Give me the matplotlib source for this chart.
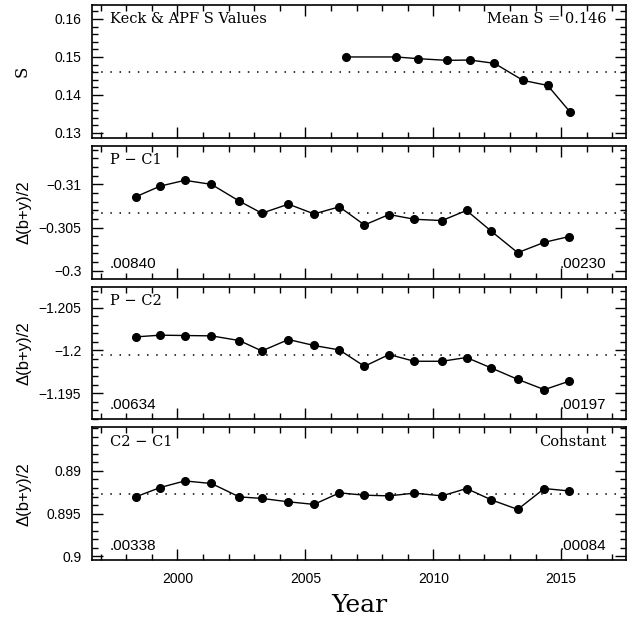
import matplotlib
matplotlib.use('Agg')
import matplotlib.pyplot as plt
from matplotlib.ticker import MultipleLocator, FixedLocator, FuncFormatter

# Keck & APF S values
s_years = [2006.59, 2008.54, 2009.42, 2010.54, 2011.43, 2012.39, 2013.51, 2014.47, 2015.35]
s_vals = [0.1500, 0.1500, 0.14955, 0.14910, 0.14920, 0.14832, 0.14383, 0.14251, 0.13549]
s_err = [0.0002, 0.0002, 0.0002, 0.0002, 0.0002, 0.0002, 0.0006, 0.0010, 0.0003]
s_mean = 0.146

# seasonal photometry
years = [1998.37, 1999.33, 2000.29, 2001.33, 2002.42, 2003.30, 2004.34, 2005.34, 2006.33,
         2007.31, 2008.27, 2009.26, 2010.34, 2011.30, 2012.27, 2013.30, 2014.34, 2015.30]
p_c1 = [-0.30856, -0.30980, -0.31047, -0.31000, -0.30806, -0.30666, -0.30771, -0.30658, -0.30740,
        -0.30530, -0.30651, -0.30596, -0.30581, -0.30698, -0.30457, -0.30209, -0.30329, -0.30395]
p_c2 = [-1.20159, -1.20179, -1.20175, -1.20171, -1.20116, -1.19994, -1.20128, -1.20058, -1.20006,
        -1.19814, -1.19952, -1.19873, -1.19873, -1.19917, -1.19794, -1.19661, -1.19540, -1.19638]
c2_c1 = [0.89304, 0.89194, 0.89117, 0.89147, 0.89304, 0.89322, 0.89362, 0.89392, 0.89257,
         0.89284, 0.89292, 0.89260, 0.89292, 0.89206, 0.89339, 0.89451, 0.89206, 0.89234]
p_c1_err = [0.0001] * 17 + [0.00022]
p_c2_err = [0.0001] * 17 + [0.00017]
c2_c1_err = [0.0001] * 18
means = [-0.30663, -1.19947, 0.89276]

panel_labels = ['P \u2212 C1', 'P \u2212 C2', 'C2 \u2212 C1']
sigma_left = ['.00840', '.00634', '.00338']
sigma_right = ['.00230', '.00197', '.00084']
yticks = [[-0.31, -0.305, -0.3], [-1.205, -1.2, -1.195], [0.89, 0.895, 0.9]]
ylims = [(-0.2991, -0.3145), (-1.1919, -1.2075), (0.9005, 0.8849)]

serif = 'DejaVu Serif'
sans = 'Liberation Sans'

fig = plt.figure(figsize=(6.42, 6.2), dpi=100)
left, width, height = 0.144, 0.831, 0.2145
bottoms = [0.7782, 0.5508, 0.3234, 0.0960]
axes = [fig.add_axes([left, b, width, height]) for b in bottoms]


def fmt(v, pos):
    return ('%g' % round(v, 4)).replace('-', '\u2212')


def style_axis(ax):
    ax.set_xlim(1996.68, 2017.53)
    ax.xaxis.set_major_locator(MultipleLocator(5))
    ax.xaxis.set_minor_locator(MultipleLocator(1))
    ax.tick_params(which='both', direction='in', top=True, right=True, width=1.0)
    ax.tick_params(which='major', length=8, labelsize=10, pad=8)
    ax.tick_params(which='minor', length=4)
    ax.yaxis.set_major_formatter(FuncFormatter(fmt))
    for lab in ax.get_xticklabels() + ax.get_yticklabels():
        lab.set_family(sans)
    for sp in ax.spines.values():
        sp.set_linewidth(1.2)


dots = (0, (1, 5))

# panel 1: S values
ax = axes[0]
ax.errorbar(s_years, s_vals, yerr=s_err, color='black', marker='o', markersize=5.5,
            linewidth=1.0, elinewidth=1.0, capsize=2)
ax.axhline(s_mean, color='black', linestyle=dots, linewidth=1.1)
ax.set_ylim(0.1288, 0.1638)
ax.yaxis.set_major_locator(FixedLocator([0.13, 0.14, 0.15, 0.16]))
ax.yaxis.set_minor_locator(MultipleLocator(0.002))
style_axis(ax)
ax.set_xticklabels([])
ax.set_ylabel('S', family=serif, fontsize=12)
ax.yaxis.set_label_coords(-0.115, 0.5)
ax.text(0.033, 0.89, 'Keck & APF S Values', transform=ax.transAxes, family=serif,
        fontsize=10.5, ha='left', va='center')
ax.text(0.963, 0.89, 'Mean S = 0.146', transform=ax.transAxes, family=serif,
        fontsize=10.5, ha='right', va='center')

series = [p_c1, p_c2, c2_c1]
errs = [p_c1_err, p_c2_err, c2_c1_err]
for i in range(3):
    ax = axes[i + 1]
    ax.errorbar(years, series[i], yerr=errs[i], color='black', marker='o', markersize=5.5,
                linewidth=1.0, elinewidth=1.0, capsize=2)
    ax.axhline(means[i], color='black', linestyle=dots, linewidth=1.1)
    ax.set_ylim(*ylims[i])
    ax.yaxis.set_major_locator(FixedLocator(yticks[i]))
    ax.yaxis.set_minor_locator(MultipleLocator(0.001))
    style_axis(ax)
    if i < 2:
        ax.set_xticklabels([])
    ax.set_ylabel('\u0394(b+y)/2', family=sans, fontsize=12)
    ax.yaxis.set_label_coords(-0.115, 0.5)
    ax.text(0.033, 0.89, panel_labels[i], transform=ax.transAxes, family=serif,
            fontsize=10.5, ha='left', va='center')
    ax.text(0.033, 0.11, sigma_left[i], transform=ax.transAxes, family=sans,
            fontsize=11, ha='left', va='center')
    ax.text(0.963, 0.11, sigma_right[i], transform=ax.transAxes, family=sans,
            fontsize=11, ha='right', va='center')

axes[3].text(0.963, 0.89, 'Constant', transform=axes[3].transAxes, family=serif,
             fontsize=10.5, ha='right', va='center')
axes[3].set_xlabel('Year', family=serif, fontsize=18, labelpad=6)

fig.savefig('out.png', dpi=100)
